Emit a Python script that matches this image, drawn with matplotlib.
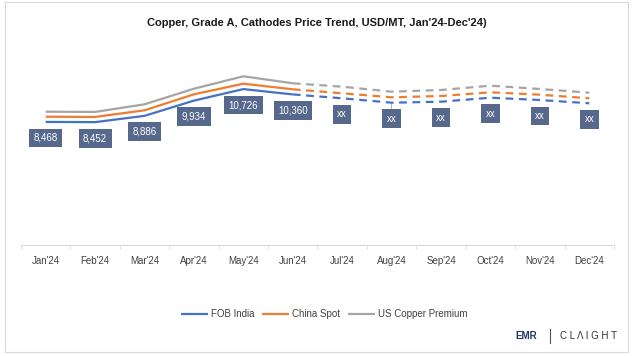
import matplotlib
matplotlib.use("Agg")
import matplotlib.pyplot as plt
from matplotlib.patches import Rectangle

plt.rcParams['font.family'] = ['Liberation Sans', 'DejaVu Sans']

# data
months = ["Jan'24", "Feb'24", "Mar'24", "Apr'24", "May'24", "Jun'24",
          "Jul'24", "Aug'24", "Sep'24", "Oct'24", "Nov'24", "Dec'24"]
fob_india = [8468, 8452, 8886, 9934, 10726, 10360,
             10093, 9790, 9859, 10134, 9976, 9749]
china_spot = [8827, 8811, 9267, 10368, 11097, 10712,
              10437, 10162, 10251, 10506, 10341, 10093]
us_premium = [9171, 9155, 9680, 10753, 11607, 11125,
              10891, 10547, 10664, 10960, 10733, 10478]
labels = ["8,468", "8,452", "8,886", "9,934", "10,726", "10,360",
          "xx", "xx", "xx", "xx", "xx", "xx"]
n_actual = 6  # Jan-Jun actual, rest forecast (dashed)

blue = '#4472C4'
orange = '#ED7D31'
grey = '#A5A5A5'
box_col = '#56698C'

fig = plt.figure(figsize=(6.33, 3.56), dpi=100)
ax = fig.add_axes([21/633, 1-245/356, 593/633, 200/356])

x = list(range(len(months)))
series = [(fob_india, blue, 'FOB India'),
          (china_spot, orange, 'China Spot'),
          (us_premium, grey, 'US Copper Premium')]
for vals, col, name in series:
    ax.plot(x[:n_actual], vals[:n_actual], color=col, lw=1.6, label=name,
            solid_capstyle='butt')
    ax.plot(x[n_actual-1:], vals[n_actual-1:], color=col, lw=1.6,
            dashes=(3.5, 2.5), dash_capstyle='butt')

for i, (v, lab) in enumerate(zip(fob_india, labels)):
    kw = {}
    if months[i] == "Aug'24":
        kw = dict(arrowprops=dict(arrowstyle='-', color='#A0A0A0', lw=0.6,
                                  shrinkA=0, shrinkB=1))
    ax.annotate(lab, (i, v), xytext=(0, -16), textcoords='offset pixels',
                ha='center', va='center', fontsize=7, color='white',
                bbox=dict(boxstyle='square,pad=0.45', fc=box_col, ec='none'),
                **kw)

ax.set_xlim(-0.5, len(months) - 0.5)
ax.set_ylim(0, 13760)
ax.set_yticks([])
ax.set_xticks([i + 0.5 for i in range(-1, len(months))], minor=True)
ax.set_xticks(x)
ax.set_xticklabels(months, fontsize=7, color='#404040')
ax.tick_params(axis='x', which='major', length=0, pad=8)
ax.tick_params(axis='x', which='minor', length=3, color='#D9D9D9')
for s in ['top', 'right', 'left']:
    ax.spines[s].set_visible(False)
ax.spines['bottom'].set_color('#D9D9D9')

fig.text(0.5, 1-23/356, "Copper, Grade A, Cathodes Price Trend, USD/MT, Jan'24-Dec'24)",
         ha='center', va='center', fontsize=8, fontweight='bold', color='#1a1a1a')

handles, names = ax.get_legend_handles_labels()
fig.legend(handles, names, loc='center', bbox_to_anchor=(324/633, 1-314/356),
           ncol=3, frameon=False, fontsize=7, handlelength=2.8,
           handletextpad=0.3, columnspacing=0.8, labelcolor='#404040')

# logo
fig.text(526/633, 1-336/356, "EMR", ha='center', va='center', fontsize=7,
         fontweight='bold', color='#1F3864')
fig.add_artist(plt.Line2D([550/633, 550/633], [1-343/356, 1-329/356],
                          color='#555555', lw=0.8))
fig.text(588/633, 1-336/356, "C L Λ I G H T", ha='center', va='center',
         fontsize=7, color='#333333')

fig.add_artist(Rectangle((5/633, 4/356), 623/633, 350/356, fill=False,
                         ec='#D9D9D9', lw=0.8, transform=fig.transFigure))

fig.savefig('out.png', dpi=100)
